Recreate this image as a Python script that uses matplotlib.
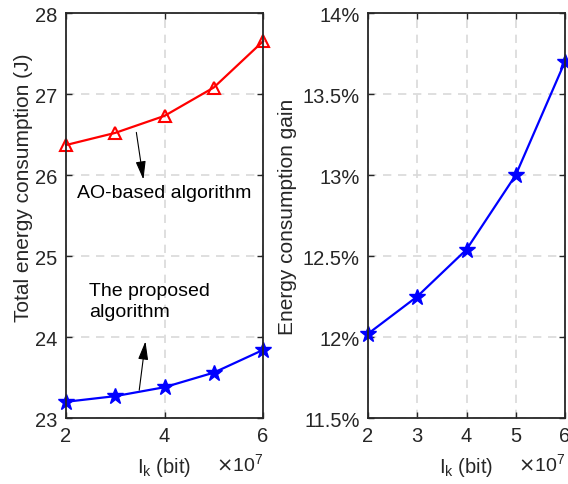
import matplotlib
matplotlib.use('Agg')
import matplotlib.pyplot as plt
from matplotlib.ticker import FuncFormatter

plt.rcParams['font.family'] = ['Liberation Sans', 'DejaVu Sans']
plt.rcParams['font.size'] = 14

# data
ik = [2, 3, 4, 5, 6]  # x 1e7 bit
energy_ao = [26.37, 26.52, 26.73, 27.08, 27.65]
energy_prop = [23.20, 23.27, 23.38, 23.56, 23.84]
gain = [12.02, 12.25, 12.54, 13.00, 13.70]

fig = plt.figure(figsize=(5.68, 4.85), dpi=100)
ax1 = fig.add_axes([66/568, 1-419/485, 197/568, 405/485])
ax2 = fig.add_axes([368/568, 1-419/485, 197/568, 405/485])


def style(ax):
    ax.grid(True, color='#d9d9d9', linestyle=(0, (5, 4)), linewidth=1.2)
    ax.set_axisbelow(True)
    ax.tick_params(direction='in', top=True, right=True, length=4, width=1.0,
                   colors='#262626', labelsize=14.5, pad=6)
    for s in ax.spines.values():
        s.set_linewidth(1.3)
        s.set_color('#262626')
    ax.set_xlabel('I$_\\mathregular{k}$ (bit)', fontsize=14.5, color='#262626', labelpad=7)
    ax.text(1.0, -0.085, '$\\times$10$^\\mathregular{7}$', transform=ax.transAxes,
            ha='right', va='top', fontsize=14, color='#262626')


ax1.plot(ik, energy_ao, color='red', lw=1.6, marker='^', ms=8, mfc='none', mew=1.5,
         clip_on=False)
ax1.plot(ik, energy_prop, color='blue', lw=1.6, marker='*', ms=12, clip_on=False)
ax1.set_xlim(2, 6)
ax1.set_ylim(23, 28)
ax1.set_xticks([2, 4, 6])
ax1.set_yticks([23, 24, 25, 26, 27, 28])
style(ax1)
ax1.set_ylabel('Total energy consumption (J)', fontsize=15, color='#262626')
ax1.yaxis.set_label_coords(-0.165, 0.57)

arrow = dict(arrowstyle='-|>,head_length=0.8,head_width=0.22', color='black', lw=0.8)
ax1.annotate('', xy=(3.58, 25.91), xytext=(3.42, 26.56), arrowprops=arrow)
ax1.text(3.99, 25.79, 'AO-based algorithm', ha='center', va='center', fontsize=14)
ax1.annotate('', xy=(3.62, 23.98), xytext=(3.48, 23.31), arrowprops=arrow)
ax1.text(2.47, 24.68, 'The proposed\nalgorithm', ha='left', va='top', fontsize=14,
         linespacing=1.3)

ax2.plot(ik, gain, color='blue', lw=1.6, marker='*', ms=12, clip_on=False)
ax2.set_xlim(2, 6)
ax2.set_ylim(11.5, 14)
ax2.set_xticks(ik)
ax2.set_yticks([11.5, 12, 12.5, 13, 13.5, 14])
ax2.yaxis.set_major_formatter(FuncFormatter(lambda v, p: f'{v:g}%'))
style(ax2)
ax2.set_ylabel('Energy consumption gain', fontsize=15, color='#262626')
ax2.yaxis.set_label_coords(-0.36, 0.5)

fig.savefig('out.png', dpi=100)
